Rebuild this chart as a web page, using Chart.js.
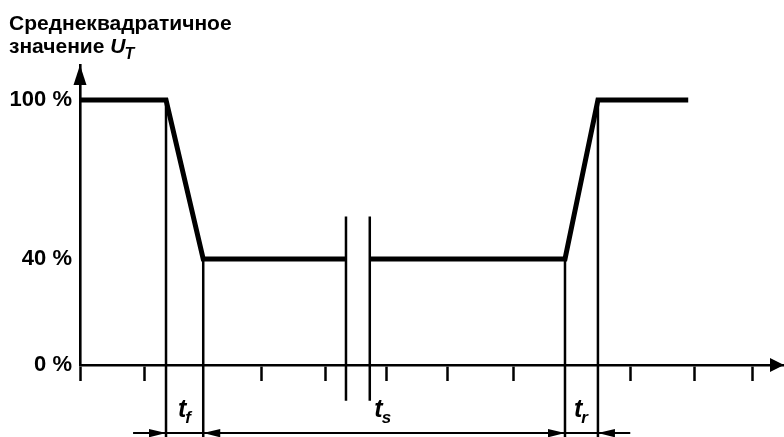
<!DOCTYPE html>
<html>
<head>
<meta charset="utf-8">
<script src="https://cdn.jsdelivr.net/npm/chart.js@4"></script>
<style>
  body { margin: 0; background: #fff; }
  canvas { display: block; }
</style>
</head>
<body>
<canvas id="dip" width="784" height="437"></canvas>
<script>
// y levels (percent of U_T) shown on the axis
const levels = [100, 40, 0];
// x axis tick positions, in tick units
const tickUnits = [0, 1.05, 2.97, 4.03, 5.03, 6.03, 7.1, 9.03, 10.07, 11.03];
// RMS waveform, broken in the middle
const waveX = [0, 1.41, 2.02, 4.36, 4.36, 4.75, 7.95, 8.49, 9.97];
const waveY = [100, 100, 40, 40, null, 40, 40, 100, 100];
// vertical reference lines at the ramp edges
const markX = [1.41, 2.02, 7.95, 8.49];
const markTop = [100, 40, 40, 100];
const markBottom = -27.5;
// break symbol
const breakX = [4.36, 4.75];
const breakTop = 56;
const breakBottom = -13.5;
// dimension line with its arrow heads
const dimY = -25.7;
const dimFrom = 0.87;
const dimTo = 9.02;
const arrowDir = [1, -1, 1, -1];
// interval labels t_f, t_s, t_r
const spanNames = ['f', 's', 'r'];
const spanX = [1.72, 4.97, 8.22];
const spanY = -19.5;

const FONT = 'Liberation Sans, Arial, sans-serif';
Chart.defaults.font.family = FONT;
Chart.defaults.color = '#000';

function pts(xs, ys) {
  return xs.map((v, i) => ({ x: v, y: ys[i] }));
}

function segs(xs, tops, bottom) {
  const out = [];
  xs.forEach((v, i) => {
    out.push({ x: v, y: Array.isArray(tops) ? tops[i] : tops });
    out.push({ x: v, y: bottom });
    out.push({ x: v, y: null });
  });
  return out;
}

function tri(ctx, tx, ty, dx, dy, len, half) {
  const bx = tx - dx * len, by = ty - dy * len;
  ctx.beginPath();
  ctx.moveTo(tx, ty);
  ctx.lineTo(bx - dy * half, by + dx * half);
  ctx.lineTo(bx + dy * half, by - dx * half);
  ctx.closePath();
  ctx.fill();
}

function subText(ctx, main, sub, x, y, size, subSize) {
  ctx.font = 'italic bold ' + size + 'px ' + FONT;
  ctx.fillText(main, x, y);
  const w = ctx.measureText(main).width;
  ctx.font = 'italic bold ' + subSize + 'px ' + FONT;
  ctx.fillText(sub, x + w - 1, y + subSize * 0.35);
  return w + ctx.measureText(sub).width;
}

const extras = {
  id: 'extras',
  afterDraw(chart) {
    const { ctx, scales: { x, y } } = chart;
    ctx.save();
    ctx.fillStyle = '#000';
    ctx.textBaseline = 'alphabetic';

    // axis arrows
    tri(ctx, x.getPixelForValue(0), y.getPixelForValue(y.max), 0, -1, 20, 6.5);
    tri(ctx, x.getPixelForValue(x.max), y.getPixelForValue(0), 1, 0, 14, 7);

    // dimension arrow heads
    const dy = y.getPixelForValue(dimY);
    markX.forEach((v, i) => {
      tri(ctx, x.getPixelForValue(v), dy, arrowDir[i], 0, 17, 4.2);
    });

    // interval labels
    spanNames.forEach((n, i) => {
      ctx.textAlign = 'left';
      ctx.font = 'italic bold 25px ' + FONT;
      const tw = ctx.measureText('t').width;
      ctx.font = 'italic bold 17px ' + FONT;
      const sw = ctx.measureText(n).width;
      const cx = x.getPixelForValue(spanX[i]) - (tw + sw) / 2;
      subText(ctx, 't', n, cx, y.getPixelForValue(spanY), 25, 17);
    });

    // axis title
    ctx.textAlign = 'left';
    ctx.font = 'bold 21px ' + FONT;
    ctx.fillText('Среднеквадратичное', 9, 30);
    ctx.fillText('значение ', 9, 53);
    const w = ctx.measureText('значение ').width;
    subText(ctx, 'U', 'T', 9 + w, 53, 21, 16);
    ctx.restore();
  }
};

new Chart(document.getElementById('dip'), {
  type: 'line',
  data: {
    datasets: [
      {
        data: pts(waveX, waveY),
        borderColor: '#000',
        borderWidth: 5,
        pointRadius: 0,
        spanGaps: false,
        borderJoinStyle: 'miter',
        clip: false
      },
      {
        data: segs(markX, markTop, markBottom),
        borderColor: '#000',
        borderWidth: 2.5,
        pointRadius: 0,
        spanGaps: false,
        clip: false
      },
      {
        data: segs(breakX, breakTop, breakBottom),
        borderColor: '#000',
        borderWidth: 2.5,
        pointRadius: 0,
        spanGaps: false,
        clip: false
      },
      {
        data: pts([dimFrom, dimTo], [dimY, dimY]),
        borderColor: '#000',
        borderWidth: 2,
        pointRadius: 0,
        clip: false
      }
    ]
  },
  options: {
    responsive: false,
    animation: false,
    layout: { padding: { top: 65, right: 0, left: 0, bottom: 0 } },
    plugins: {
      legend: { display: false },
      tooltip: { enabled: false }
    },
    scales: {
      x: {
        type: 'linear',
        min: 0,
        max: 11.54,
        afterBuildTicks: s => { s.ticks = tickUnits.map(v => ({ value: v })); },
        afterFit: s => { s.height = 72; },
        ticks: { display: false },
        grid: {
          drawOnChartArea: false,
          drawTicks: true,
          tickLength: 16,
          tickWidth: 2.5,
          tickColor: '#000'
        },
        border: { color: '#000', width: 2.6 }
      },
      y: {
        type: 'linear',
        min: 0,
        max: 113.2,
        afterBuildTicks: s => { s.ticks = levels.map(v => ({ value: v })); },
        afterFit: s => { s.width = 80; },
        ticks: {
          padding: 8,
          font: { size: 22, weight: 'bold' },
          callback: v => v + ' %'
        },
        grid: { drawOnChartArea: false, drawTicks: false },
        border: { color: '#000', width: 2.6 }
      }
    }
  },
  plugins: [extras]
});
</script>
</body>
</html>
